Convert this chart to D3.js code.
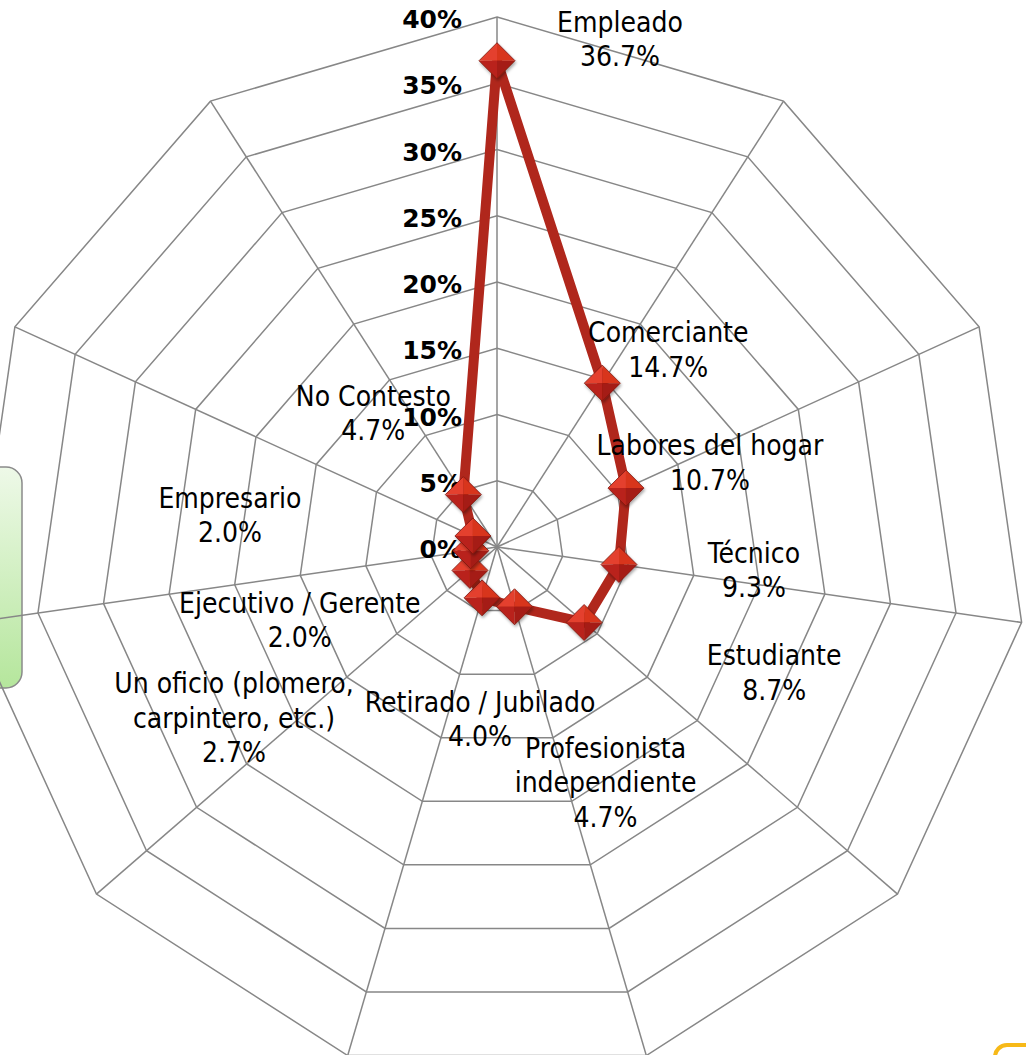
<!DOCTYPE html>
<html>
<head>
<meta charset="utf-8">
<script src="https://cdn.jsdelivr.net/npm/d3@7"></script>
<style>
  html, body { margin: 0; padding: 0; background: #fff; overflow: hidden; }
  svg { display: block; }
</style>
</head>
<body>
<svg id="chart" width="1026" height="1055"></svg>
<script>
// ---- data ----
const categories = [
  "Empleado", "Comerciante", "Labores del hogar", "Técnico", "Estudiante",
  "Profesionista\nindependiente", "Retirado / Jubilado",
  "Un oficio (plomero,\ncarpintero, etc.)", "Ejecutivo / Gerente",
  "Empresario", "No Contesto"
];
const values = [36.7, 14.7, 10.7, 9.3, 8.7, 4.7, 4.0, 2.7, 2.0, 2.0, 4.7];
const tickValues = [0, 5, 10, 15, 20, 25, 30, 35, 40];
const tickLabels = ["0%", "5%", "10%", "15%", "20%", "25%", "30%", "35%", "40%"];

// ---- layout (label offsets from each point: centre x, first baseline y) ----
const labelOffsets = [
  [123, -29], [66, -41], [84, -33], [135, -2], [190, 43], [91, 151],
  [-2, 114], [-236, 123], [-171, 62], [-243, -28], [-90, -89]
];

const svg = d3.select("#chart");
const cx = 497, cy = 547;
const r = d3.scaleLinear().domain([0, 40]).range([0, 530]);
const angle = d3.scaleLinear().domain([0, categories.length]).range([0, 2 * Math.PI]);
const pt = (i, v) => [cx + r(v) * Math.sin(angle(i)), cy - r(v) * Math.cos(angle(i))];

const defs = svg.append("defs");
const lg = defs.append("linearGradient").attr("id", "legGrad").attr("x1", 0).attr("y1", 0).attr("x2", 0).attr("y2", 1);
lg.append("stop").attr("offset", "0%").attr("stop-color", "#eef9e8");
lg.append("stop").attr("offset", "100%").attr("stop-color", "#b5e69c");
const f = defs.append("filter").attr("id", "shadow").attr("x", "-50%").attr("y", "-50%").attr("width", "200%").attr("height", "200%");
f.append("feDropShadow").attr("dx", 1).attr("dy", 2).attr("stdDeviation", 1.5).attr("flood-color", "#000").attr("flood-opacity", 0.35);

// legend box (partially off-canvas)
svg.append("rect").attr("x", -40).attr("y", 467).attr("width", 62).attr("height", 221)
  .attr("rx", 16).attr("fill", "url(#legGrad)").attr("stroke", "#8a8a8a").attr("stroke-width", 1.5);

// bottom-right yellow frame (off-canvas)
svg.append("rect").attr("x", 995).attr("y", 1045).attr("width", 120).attr("height", 60)
  .attr("rx", 12).attr("fill", "#fff").attr("stroke", "#f7b918").attr("stroke-width", 4);

// grid rings
const grid = svg.append("g").attr("fill", "none").attr("stroke", "#878787").attr("stroke-width", 1.5);
tickValues.filter(t => t > 0).forEach(t => {
  grid.append("polygon").attr("points", categories.map((c, i) => pt(i, t).join(",")).join(" "));
});
// spokes
categories.forEach((c, i) => {
  const p = pt(i, 40);
  grid.append("line").attr("x1", cx).attr("y1", cy).attr("x2", p[0]).attr("y2", p[1]);
});

// tick labels
svg.append("g").selectAll("text").data(tickValues).join("text")
  .attr("x", cx - 35).attr("y", d => cy - r(d) + 11)
  .attr("text-anchor", "end")
  .attr("font-family", "'DejaVu Sans', sans-serif").attr("font-weight", "bold")
  .attr("font-size", 25).attr("fill", "#000")
  .text((d, i) => tickLabels[i]);

// series line
const line = d3.line().curve(d3.curveLinearClosed);
svg.append("path").datum(values.map((v, i) => pt(i, v)))
  .attr("d", line).attr("fill", "none").attr("stroke", "#b0271c")
  .attr("stroke-width", 10).attr("stroke-linejoin", "miter");

// markers (faceted diamonds)
const s = 18;
const mk = svg.append("g").selectAll("g").data(values).join("g")
  .attr("transform", (d, i) => `translate(${pt(i, d)[0]},${pt(i, d)[1]})`)
  .attr("filter", "url(#shadow)");
const facets = [
  { p: [[-s, 0], [0, -s], [0, 0]], c: "#e4402d" },
  { p: [[0, -s], [s, 0], [0, 0]], c: "#d8341f" },
  { p: [[-s, 0], [0, s], [0, 0]], c: "#b9241a" },
  { p: [[0, s], [s, 0], [0, 0]], c: "#a51b12" }
];
facets.forEach(fc => {
  mk.append("polygon").attr("points", fc.p.map(q => q.join(",")).join(" ")).attr("fill", fc.c);
});
mk.append("polygon").attr("points", `${-s},0 0,${-s} ${s},0 0,${s}`)
  .attr("fill", "none").attr("stroke", "#7c1810").attr("stroke-width", 0.8);

// data labels
const lab = svg.append("g").attr("font-family", "'DejaVu Sans Condensed', 'DejaVu Sans', sans-serif")
  .attr("font-stretch", "condensed").attr("font-size", 28).attr("fill", "#000").attr("text-anchor", "middle");
values.forEach((v, i) => {
  const p = pt(i, v);
  const lines = categories[i].split("\n").concat([v.toFixed(1) + "%"]);
  const t = lab.append("text").attr("x", p[0] + labelOffsets[i][0]).attr("y", p[1] + labelOffsets[i][1]);
  lines.forEach((ln, k) => {
    t.append("tspan").attr("x", p[0] + labelOffsets[i][0]).attr("dy", k === 0 ? 0 : 34.5).text(ln);
  });
});
</script>
</body>
</html>
